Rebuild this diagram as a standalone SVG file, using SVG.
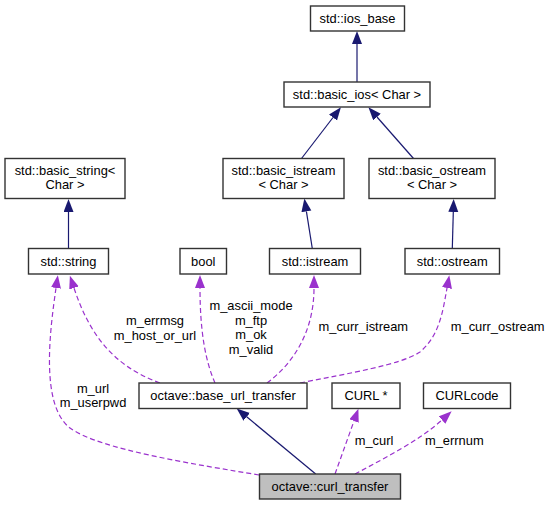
<svg xmlns="http://www.w3.org/2000/svg" width="551" height="505" viewBox="0 0 551 505">
<style>
.node rect{fill:#ffffff;stroke:#333333;stroke-width:1.4}
.node.sel rect{fill:#bfbfbf}
text{font-family:"Liberation Sans",Arial,sans-serif;font-size:12.9px;fill:#000000;text-anchor:middle}
.inh{fill:none;stroke:#191970;stroke-width:1.2}
.use{fill:none;stroke:#9a32cd;stroke-width:1.2;stroke-dasharray:5,3}
</style>
<defs>
<marker id="ah" markerUnits="userSpaceOnUse" markerWidth="14" markerHeight="11" refX="0" refY="5" orient="auto"><path d="M0,0 L13,5 L0,10 z" fill="#191970"/></marker>
<marker id="au" markerUnits="userSpaceOnUse" markerWidth="14" markerHeight="11" refX="0" refY="5" orient="auto"><path d="M0,0 L13,5 L0,10 z" fill="#9a32cd"/></marker>
</defs>
<rect width="551" height="505" fill="#ffffff"/>
<g id="edges">
<path class="inh" marker-end="url(#ah)" d="M357,82 L357,44"/>
<path class="inh" marker-end="url(#ah)" d="M301.5,158.5 L333,117.5"/>
<path class="inh" marker-end="url(#ah)" d="M413.5,158.5 L377,117"/>
<path class="inh" marker-end="url(#ah)" d="M68.5,248.5 L68.5,212"/>
<path class="inh" marker-end="url(#ah)" d="M312.3,248.5 L306.4,211.4"/>
<path class="inh" marker-end="url(#ah)" d="M452.3,248.5 L453.3,212"/>
<path class="inh" marker-end="url(#ah)" d="M315.7,474 L246.7,416.8"/>
<path class="use" marker-end="url(#au)" d="M259,475 C200,465 100,450 70,428 C40,405 50,330 56,288"/>
<path class="use" marker-end="url(#au)" d="M160,383 C110,365 88,330 74,288"/>
<path class="use" marker-end="url(#au)" d="M215,383 C205,360 200,330 200,288"/>
<path class="use" marker-end="url(#au)" d="M267,383 C295,362 314,330 314,288"/>
<path class="use" marker-end="url(#au)" d="M300,383 C350,373 400,365 420,352 C440,335 443,310 447,288"/>
<path class="use" marker-end="url(#au)" d="M335,474 L354,421"/>
<path class="use" marker-end="url(#au)" d="M355,474 C385,458 420,440 442,420"/>
<text x="93" y="392.8">m_url</text>
<text x="93" y="407.2">m_userpwd</text>
<text x="155" y="324.5">m_errmsg</text>
<text x="155" y="339.5">m_host_or_url</text>
<text x="251" y="309.5">m_ascii_mode</text>
<text x="251" y="324.5">m_ftp</text>
<text x="251" y="339">m_ok</text>
<text x="251" y="353.5">m_valid</text>
<text x="363.3" y="331.2">m_curr_istream</text>
<text x="497.7" y="331.2">m_curr_ostream</text>
<text x="374" y="444.5">m_curl</text>
<text x="454.3" y="444.5">m_errnum</text>
</g>
<g id="ios_base" class="node"><rect x="310.5" y="6" width="94" height="25"/><text x="357.5" y="22.8">std::ios_base</text></g>
<g id="basic_ios" class="node"><rect x="284" y="82" width="146" height="25"/><text x="357" y="98.8">std::basic_ios&lt; Char &gt;</text></g>
<g id="basic_string" class="node"><rect x="5" y="158.5" width="120" height="40"/><text x="65" y="174.5">std::basic_string&lt;</text><text x="65" y="189">Char &gt;</text></g>
<g id="basic_istream" class="node"><rect x="223" y="158.5" width="121" height="40"/><text x="283.5" y="174.5">std::basic_istream</text><text x="283.5" y="189">&lt; Char &gt;</text></g>
<g id="basic_ostream" class="node"><rect x="369" y="158.5" width="126" height="40"/><text x="432" y="174.5">std::basic_ostream</text><text x="432" y="189">&lt; Char &gt;</text></g>
<g id="string" class="node"><rect x="28.5" y="248.5" width="80" height="25.5"/><text x="68.5" y="265.5">std::string</text></g>
<g id="bool" class="node"><rect x="180" y="248.5" width="46.5" height="25.5"/><text x="203.3" y="265.5">bool</text></g>
<g id="istream" class="node"><rect x="269.5" y="248.5" width="91" height="25.5"/><text x="315" y="265.5">std::istream</text></g>
<g id="ostream" class="node"><rect x="405" y="248.5" width="94.5" height="25.5"/><text x="452.3" y="265.5">std::ostream</text></g>
<g id="base_url_transfer" class="node"><rect x="139" y="383" width="168" height="25.5"/><text x="223" y="399.5">octave::base_url_transfer</text></g>
<g id="curl_ptr" class="node"><rect x="332" y="383" width="68" height="25.5"/><text x="366" y="399.5">CURL *</text></g>
<g id="curlcode" class="node"><rect x="423.5" y="383" width="87" height="25.5"/><text x="467" y="399.5">CURLcode</text></g>
<g id="curl_transfer" class="node sel"><rect x="259.5" y="474" width="141" height="25"/><text x="330" y="490.5">octave::curl_transfer</text></g>
</svg>
